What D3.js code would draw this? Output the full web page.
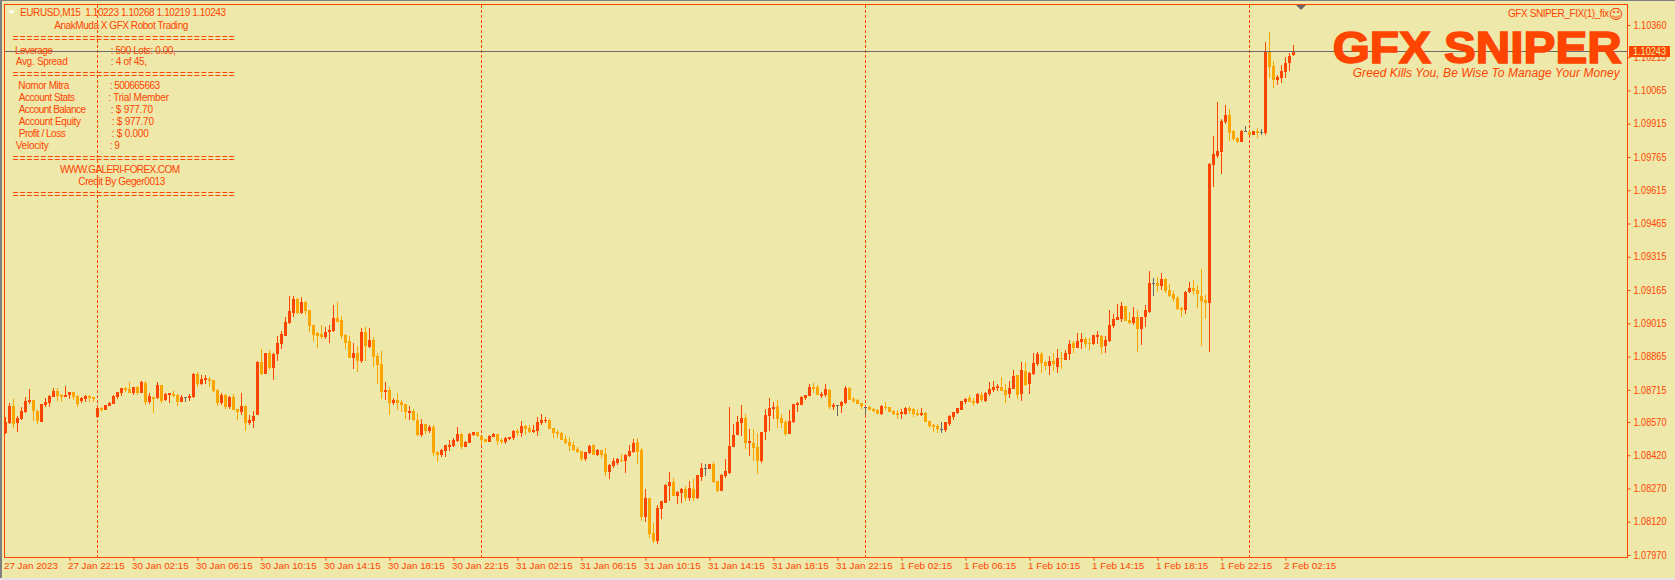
<!DOCTYPE html>
<html><head><meta charset="utf-8">
<script src="https://cdn.jsdelivr.net/npm/d3@7"></script>
<style>html,body{margin:0;padding:0;background:#EEE8AA;overflow:hidden}svg{display:block}text{font-family:"Liberation Sans",Arial,sans-serif;white-space:pre}</style>
</head><body><svg id="c" width="1675" height="580"></svg>
<script>
// Prices stored as points above 1.00000 (value = 1 + v * 0.00001)
const highs=[8592,8655,8673,8597,8637,8682,8718,8669,8624,8651,
8678,8691,8723,8723,8696,8732,8705,8705,8691,8682,
8691,8691,8682,8637,8637,8646,8660,8691,8705,8723,
8727,8750,8727,8732,8754,8754,8700,8682,8750,8736,
8700,8700,8709,8696,8691,8682,8696,8791,8795,8782,
8782,8773,8759,8718,8700,8696,8687,8696,8628,8700,
8646,8601,8619,8845,8899,8881,8894,8881,8957,8980,
9043,9138,9138,9129,9133,9115,9075,9007,8975,9007,
8998,9007,9097,9111,9048,8966,8957,8926,8912,8994,
8998,8994,8953,8881,8890,8750,8727,8678,8700,8669,
8651,8642,8628,8610,8583,8561,8556,8556,8439,8448,
8466,8488,8497,8547,8520,8484,8520,8524,8524,8506,
8493,8511,8520,8515,8497,8502,8502,8533,8538,8574,
8556,8556,8556,8592,8605,8592,8583,8542,8533,8524,
8511,8502,8484,8457,8439,8434,8466,8470,8448,8443,
8452,8380,8407,8407,8425,8425,8466,8493,8497,8452,
8267,8227,8114,8195,8213,8290,8344,8317,8258,8272,
8281,8303,8312,8330,8385,8380,8380,8389,8303,8335,
8403,8637,8560,8597,8646,8606,8538,8538,8520,8524,
8628,8678,8660,8669,8606,8579,8624,8651,8660,8687,
8691,8741,8745,8736,8705,8741,8718,8655,8646,8664,
8732,8727,8682,8673,8655,8637,8642,8633,8628,8646,
8660,8637,8624,8624,8628,8637,8642,8633,8628,8633,
8615,8574,8560,8561,8570,8570,8601,8615,8633,8664,
8678,8692,8678,8701,8705,8705,8750,8755,8741,8773,
8741,8755,8804,8782,8840,8840,8795,8881,8885,8885,
8845,8867,8881,8899,8885,8894,8940,8935,8971,8971,
8953,8949,8962,8980,8962,8958,9075,9057,9102,9111,
9093,9066,9088,9075,9043,9097,9251,9220,9224,9242,
9220,9192,9161,9138,9089,9161,9201,9210,9188,9260,
9143,9738,9860,10013,9936,9999,9981,9887,9855,9887,
9905,9882,9882,9896,9891,10284,10329,10198,10135,10180,
10216,10234,10268];
const lows=[8515,8561,8543,8524,8579,8610,8651,8574,8561,8570,
8637,8637,8682,8664,8660,8682,8673,8669,8637,8655,
8660,8660,8660,8592,8615,8624,8642,8651,8673,8687,
8705,8700,8691,8691,8700,8646,8651,8610,8673,8655,
8664,8655,8682,8642,8660,8660,8664,8678,8727,8736,
8741,8727,8705,8642,8646,8628,8628,8624,8579,8601,
8529,8556,8543,8601,8782,8786,8804,8759,8845,8899,
8957,9012,9043,9057,9057,9052,8975,8935,8903,8944,
8944,8926,8975,9021,8944,8899,8858,8809,8795,8836,
8845,8903,8818,8741,8673,8669,8601,8646,8624,8615,
8583,8579,8574,8506,8502,8515,8520,8416,8389,8412,
8412,8439,8457,8479,8448,8457,8475,8506,8502,8466,
8479,8479,8502,8466,8470,8470,8488,8488,8506,8502,
8511,8520,8520,8506,8556,8565,8538,8497,8497,8488,
8470,8439,8439,8430,8393,8393,8425,8421,8416,8407,
8326,8312,8362,8375,8389,8339,8412,8430,8380,8123,
8118,8046,8024,8019,8132,8204,8213,8236,8200,8204,
8213,8213,8213,8222,8303,8326,8357,8294,8254,8258,
8317,8335,8457,8511,8506,8448,8416,8394,8335,8385,
8488,8529,8583,8542,8542,8506,8515,8565,8615,8646,
8669,8687,8700,8691,8678,8682,8628,8624,8597,8610,
8651,8669,8655,8651,8628,8601,8624,8615,8606,8601,
8624,8615,8601,8583,8583,8601,8606,8592,8597,8597,
8569,8542,8524,8520,8520,8525,8552,8579,8606,8624,
8651,8660,8642,8651,8660,8660,8687,8705,8710,8710,
8655,8678,8719,8673,8664,8732,8696,8782,8822,8791,
8804,8782,8800,8791,8809,8849,8849,8881,8904,8899,
8904,8894,8917,8922,8876,8881,8931,8994,9030,9021,
9025,9012,9007,8885,8917,8998,9062,9138,9156,9165,
9152,9134,9111,9075,9044,9057,9152,9143,9084,8913,
9035,8885,9630,9760,9688,9914,9837,9837,9828,9833,
9878,9864,9864,9851,9864,9864,10121,10076,10090,10099,
10121,10153,10219];
const opens=[8520,8565,8642,8565,8583,8615,8660,8669,8619,8570,
8646,8655,8682,8709,8691,8682,8691,8705,8687,8664,
8673,8687,8682,8592,8633,8624,8642,8651,8682,8700,
8723,8718,8700,8727,8700,8745,8660,8682,8678,8736,
8669,8691,8696,8691,8660,8682,8678,8682,8786,8741,
8759,8764,8759,8714,8655,8691,8637,8682,8628,8615,
8642,8565,8574,8601,8840,8786,8881,8813,8876,8921,
8957,9016,9061,9124,9061,9111,9075,9007,8971,8966,
8953,8975,8980,9039,9030,8962,8935,8858,8881,8845,
8975,8908,8939,8867,8831,8705,8714,8655,8669,8660,
8651,8610,8619,8579,8511,8561,8529,8547,8434,8421,
8439,8457,8461,8484,8515,8457,8475,8511,8524,8506,
8493,8479,8502,8515,8488,8479,8493,8497,8529,8520,
8551,8542,8524,8529,8565,8574,8578,8542,8524,8520,
8493,8479,8466,8448,8439,8402,8430,8466,8421,8443,
8425,8344,8371,8384,8398,8393,8416,8434,8479,8443,
8141,8227,8069,8033,8177,8204,8281,8299,8236,8249,
8267,8227,8267,8227,8321,8362,8357,8380,8303,8258,
8326,8339,8457,8511,8565,8587,8475,8475,8457,8394,
8524,8597,8628,8642,8587,8569,8515,8569,8646,8646,
8678,8687,8727,8727,8687,8691,8714,8637,8646,8642,
8655,8723,8673,8669,8655,8637,8637,8628,8624,8606,
8637,8637,8619,8610,8606,8606,8633,8628,8610,8601,
8610,8574,8556,8552,8538,8534,8561,8592,8610,8624,
8660,8678,8664,8655,8692,8664,8696,8714,8723,8728,
8714,8696,8719,8782,8696,8800,8741,8786,8831,8876,
8840,8822,8845,8818,8858,8849,8876,8926,8904,8931,
8944,8926,8922,8953,8958,8913,8935,9003,9030,9034,
9093,9030,9016,9043,8989,9043,9066,9197,9197,9183,
9215,9165,9147,9129,9084,9075,9156,9174,9165,9138,
9120,9107,9729,9769,9788,9923,9954,9882,9851,9833,
9882,9878,9864,9882,9876,9873,10238,10175,10112,10121,
10148,10189,10223];
const closes=[8568,8642,8561,8588,8619,8664,8669,8619,8574,8651,
8660,8687,8709,8687,8682,8691,8705,8682,8651,8678,
8687,8678,8673,8633,8624,8646,8655,8687,8705,8723,
8714,8700,8727,8700,8750,8660,8687,8673,8736,8664,
8696,8700,8687,8660,8682,8682,8687,8786,8741,8764,
8768,8754,8709,8655,8691,8637,8682,8624,8615,8642,
8565,8579,8597,8840,8786,8881,8813,8876,8926,8966,
9021,9070,9124,9061,9111,9070,9003,8962,8957,8953,
8975,8985,9039,9021,8957,8926,8858,8881,8845,8975,
8912,8939,8863,8827,8705,8714,8655,8669,8655,8646,
8615,8619,8579,8511,8561,8529,8547,8430,8421,8443,
8466,8466,8488,8515,8457,8479,8515,8524,8506,8488,
8479,8506,8515,8484,8479,8497,8502,8529,8520,8551,
8538,8524,8533,8569,8578,8578,8538,8520,8515,8488,
8475,8461,8443,8434,8402,8434,8461,8421,8443,8421,
8344,8375,8393,8402,8393,8421,8439,8475,8434,8141,
8227,8064,8033,8182,8213,8285,8299,8236,8254,8267,
8227,8272,8227,8330,8362,8362,8380,8299,8258,8330,
8348,8461,8511,8569,8587,8475,8484,8452,8394,8524,
8601,8633,8637,8583,8565,8515,8574,8651,8655,8682,
8691,8727,8718,8691,8696,8718,8637,8646,8646,8660,
8723,8669,8664,8651,8642,8637,8624,8619,8606,8642,
8633,8615,8606,8601,8615,8633,8619,8606,8601,8610,
8569,8551,8547,8538,8538,8570,8597,8615,8633,8664,
8673,8660,8655,8696,8669,8701,8719,8728,8732,8710,
8692,8723,8777,8692,8804,8737,8791,8836,8876,8836,
8822,8845,8831,8858,8854,8881,8922,8904,8935,8944,
8922,8922,8962,8962,8908,8940,9007,9034,9043,9093,
9025,9016,9043,8989,9043,9075,9197,9197,9183,9215,
9161,9138,9125,9080,9075,9156,9174,9161,9147,9116,
9107,9733,9778,9792,9927,9954,9873,9846,9833,9882,
9882,9864,9882,9873,9876,10238,10171,10112,10126,10153,
10189,10220,10243];
const priceTicks=[1.10360,1.10215,1.10065,1.09915,1.09765,1.09615,1.09465,1.09315,1.09165,1.09015,1.08865,1.08715,1.08570,1.08420,1.08270,1.08120,1.07970];
const timeLabels=["27 Jan 2023","27 Jan 22:15","30 Jan 02:15","30 Jan 06:15","30 Jan 10:15","30 Jan 14:15","30 Jan 18:15","30 Jan 22:15","31 Jan 02:15","31 Jan 06:15","31 Jan 10:15","31 Jan 14:15","31 Jan 18:15","31 Jan 22:15","1 Feb 02:15","1 Feb 06:15","1 Feb 10:15","1 Feb 14:15","1 Feb 18:15","1 Feb 22:15","2 Feb 02:15"];
const dayBreaks=[23,119,215,311];
const bid=1.10243;
const header="EURUSD,M15  1.10223 1.10268 1.10219 1.10243";
const infoLeft=["Leverage","Avg. Spread","Nomor Mitra","Account Stats","Account Balance","Account Equity","Profit / Loss","Velocity"];
const infoRight=[": 500 Lots: 0.00,",": 4 of 45,",": 500665663",": Trial Member",": $ 977.70",": $ 977.70",": $ 0.000",": 9"];

const ORANGERED="#FF4500",ORANGE="#FFA500",GREY="#696969",BG="#EEE8AA";
const price=v=>1+v*1e-5;
const svg=d3.select("#c");
const x=d3.scaleLinear().domain([0,322]).range([5.5,1293.5]);
const y=d3.scaleLinear().domain([1.0797,1.1036]).range([555,25.06]);
const ry=p=>Math.round(y(p));

svg.append("rect").attr("width",1675).attr("height",580).attr("fill",BG);
svg.append("rect").attr("width",1675).attr("height",1).attr("fill","#808080");
svg.append("rect").attr("width",2).attr("height",580).attr("fill","#808080");
svg.append("rect").attr("y",578).attr("width",1675).attr("height",2).attr("fill","#E4E4E4");

// day separators
svg.append("g").selectAll("line").data(dayBreaks).join("line")
 .attr("x1",d=>x(d)).attr("x2",d=>x(d)).attr("y1",5).attr("y2",557)
 .attr("stroke",ORANGERED).attr("stroke-dasharray","3,2").attr("shape-rendering","crispEdges");

// candles
const idx=d3.range(highs.length);
const col=i=>closes[i]>opens[i]?ORANGERED:closes[i]<opens[i]?ORANGE:GREY;
const g=svg.append("g").attr("shape-rendering","crispEdges");
g.selectAll(".w").data(idx).join("rect").attr("class","w")
 .attr("x",i=>x(i)-.5).attr("width",1)
 .attr("y",i=>ry(price(highs[i])))
 .attr("height",i=>Math.max(1,ry(price(lows[i]))-ry(price(highs[i]))))
 .attr("fill",col);
g.selectAll(".b").data(idx).join("rect").attr("class","b")
 .attr("x",i=>x(i)-1.5).attr("width",3)
 .attr("y",i=>ry(price(Math.max(opens[i],closes[i]))))
 .attr("height",i=>Math.max(1,ry(price(Math.min(opens[i],closes[i])))-ry(price(Math.max(opens[i],closes[i])))))
 .attr("fill",col);

// frame
svg.append("rect").attr("x",4.5).attr("y",4.5).attr("width",1623).attr("height",553)
 .attr("fill","none").attr("stroke",ORANGERED).attr("shape-rendering","crispEdges");

// axes
const yAxis=d3.axisRight(y).tickValues(priceTicks).tickSize(3).tickPadding(3).tickFormat(d3.format(".5f"));
const ya=svg.append("g").attr("transform","translate(1627.5,0)").call(yAxis);
ya.select(".domain").remove();
ya.selectAll("line").attr("stroke",ORANGERED);
ya.selectAll("text").attr("fill",ORANGERED).attr("font-size",10).attr("textLength",33).attr("lengthAdjust","spacingAndGlyphs").style("font-family",'"Liberation Sans"');

const tickIdx=timeLabels.map((_,k)=>k*16);
const xAxis=d3.axisBottom(x).tickValues(tickIdx).tickSize(3).tickPadding(2).tickFormat((d,k)=>timeLabels[k]);
const xa=svg.append("g").attr("transform","translate(0,557.5)").call(xAxis);
xa.select(".domain").remove();
xa.selectAll("line").attr("stroke",ORANGERED).attr("opacity",(d,k)=>k?1:0);
xa.selectAll("text").attr("fill",ORANGERED).attr("font-size",9.8).attr("text-anchor","start").attr("dx",-2).style("font-family",'"Liberation Sans"');

// bid line & tag
svg.append("line").attr("x1",5).attr("x2",1627).attr("y1",Math.round(y(bid))+.5).attr("y2",Math.round(y(bid))+.5)
 .attr("stroke",GREY).attr("shape-rendering","crispEdges");
svg.append("rect").attr("x",1629).attr("y",Math.round(y(bid))-5).attr("width",41).attr("height",11).attr("fill",ORANGERED);
svg.append("text").attr("x",1633).attr("y",Math.round(y(bid))+4).attr("fill",BG).attr("font-size",10)
 .attr("textLength",33).attr("lengthAdjust","spacingAndGlyphs").text(d3.format(".5f")(bid));

// shift marker
svg.append("path").attr("d","M1296,5H1306L1301,10Z").attr("fill",GREY);

// text helper
function t(txt,xp,yc,len,opt={}){
  const e=svg.append("text").attr("x",xp).attr("y",yc).attr("dy","0.36em").attr("fill",opt.fill||ORANGERED)
    .attr("font-size",opt.size||10).text(txt);
  if(len)e.attr("textLength",len).attr("lengthAdjust",opt.adj||"spacing");
  return e;
}
const eq="=".repeat(32);
svg.append("path").attr("d","M8,10.5H15L11.5,14Z").attr("fill","#fff");
t(header,20,12.7,206);
t("AnakMuda X GFX Robot Trading",54.3,25.7,134);
[38.3,74,158.3,194].forEach(v=>t(eq,12.7,v,222));
const leftX=[15,15.7,18.3,18.7,18.7,18.7,18.7,15.7];
const leftW=[37.7,52,51,56.3,67.3,62.3,47,33];
const rightX=[110.7,110.7,109.7,108.3,110.7,111.7,111.7,109.7];
const rightW=[65,36.3,50.3,60.7,42.3,42.3,37,10];
const rowY=[50,61.7,85.7,97.7,109.7,121.7,133.7,145.7];
infoLeft.forEach((s,k)=>t(s,leftX[k],rowY[k],leftW[k]));
infoRight.forEach((s,k)=>t(s,rightX[k],rowY[k],rightW[k]));
t("WWW.GALERI-FOREX.COM",60,169.7,120);
t("Credit By Geger0013",78.3,181.7,87);

// brand
svg.append("text").attr("x",1332.7).attr("y",62.7).attr("font-size",45).attr("font-weight",700)
 .attr("fill",ORANGERED).attr("stroke",ORANGERED).attr("stroke-width",1.6)
 .attr("textLength",289).attr("lengthAdjust","spacingAndGlyphs").text("GFX SNIPER");
svg.append("text").attr("x",1352.7).attr("y",76.7).attr("font-size",12).attr("font-style","italic")
 .attr("fill",ORANGERED).attr("textLength",267).text("Greed Kills You, Be Wise To Manage Your Money");
t("GFX SNIPER_FIX(1)_fix",1508,13.7,101);
svg.append("text").attr("x",1616).attr("y",18.5).attr("text-anchor","middle").attr("font-size",14)
 .style("font-family",'"DejaVu Sans"').attr("fill",ORANGERED).text("\u263A");
</script></body></html>
